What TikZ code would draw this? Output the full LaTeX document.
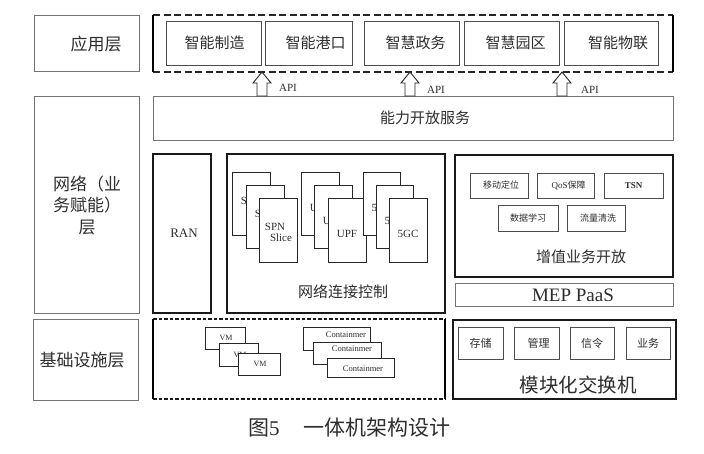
\documentclass[tikz,border=0pt]{standalone}
\usepackage{fontspec}
\setmainfont{Liberation Serif}
\newfontfamily\cjk{Noto Sans CJK SC}
\begin{document}
\begin{tikzpicture}[x=1pt,y=-1pt,
  base/.style={inner sep=0pt, outer sep=0pt, anchor=north west},
  layerbox/.style={base, draw=black!55, line width=0.9pt},
  itembox/.style={base, draw=black!70, line width=0.9pt, fill=white},
  heavybox/.style={base, draw=black!90, line width=1.7pt},
  card/.style={base, draw=black!85, line width=0.8pt, fill=white},
  txt/.style={inner sep=0pt, text=black!82},
  zh/.style={txt, font=\cjk\fontsize{#1}{#1}\selectfont},
  en/.style={txt, font=\fontsize{#1}{#1}\selectfont},
  hollow/.style={draw=black!85, line width=0.9pt, fill=white, line join=miter},
]
\fill[white] (0,0) rectangle (704,453);
\useasboundingbox (0,0) rectangle (704,453);

% ---------- layer labels ----------
\node[layerbox, minimum width=105pt, minimum height=56pt] (l1) at (34,15) {};
\node[zh=17] (l1t) at (96,44) {应用层};
\node[layerbox, minimum width=105pt, minimum height=217pt] (l2) at (34,96) {};
\node[zh=17, align=center] (l2t) at (87,205) {网络（业\\[4pt]务赋能）\\[5pt]层};
\node[layerbox, minimum width=105pt, minimum height=81pt] (l3) at (33,319) {};
\node[zh=17] (l3t) at (82,360) {基础设施层};

% ---------- application layer ----------
\node[base, minimum width=520pt, minimum height=57pt] (app) at (153,15) {};
\draw[black!85, line width=1.3pt, dash pattern=on 7pt off 3.5pt]
  (app.north west) -- (app.north east) (app.south west) -- (app.south east);
\draw[black, line width=2pt] (app.north west) -- (app.south west) (app.north east) -- (app.south east);

\node[itembox, minimum width=95pt, minimum height=44pt] (a1) at (166,21) {};
\node[zh=15] (a1t) at ([xshift=1pt]a1.center) {智能制造};
\node[itembox, minimum width=87pt, minimum height=44pt] (a2) at (265,21) {};
\node[zh=15] (a2t) at ([xshift=7pt]a2.center) {智能港口};
\node[itembox, minimum width=95pt, minimum height=44pt] (a3) at (364,21) {};
\node[zh=15] (a3t) at ([xshift=4pt]a3.center) {智慧政务};
\node[itembox, minimum width=95pt, minimum height=44pt] (a4) at (464,21) {};
\node[zh=15] (a4t) at ([xshift=4pt]a4.center) {智慧园区};
\node[itembox, minimum width=94pt, minimum height=44pt] (a5) at (564,21) {};
\node[zh=15] (a5t) at ([xshift=7pt]a5.center) {智能物联};

% ---------- capability box ----------
\node[layerbox, minimum width=520pt, minimum height=44pt] (cap) at (153,96) {};
\node[zh=15] (capt) at (425,118) {能力开放服务};

% ---------- API arrows ----------
\coordinate (tip1) at (262,72);
\coordinate (tip2) at (410,72);
\coordinate (tip3) at (562,72);
\foreach \t in {tip1,tip2,tip3}{
  \draw[hollow] (\t) -- ++(9,11) -- ++(-4,0) -- ++(0,13) -- ++(-10,0) -- ++(0,-13) -- ++(-4,0) -- cycle;
}
\node[en=11] (api1) at (288,88) {API};
\node[en=11] (api2) at (436,90) {API};
\node[en=11] (api3) at (590,90) {API};

% ---------- network layer ----------
\node[heavybox, minimum width=58pt, minimum height=159pt] (ran) at (153,154) {};
\node[en=13] (rant) at ([xshift=2pt]ran.center) {RAN};

\node[heavybox, minimum width=218pt, minimum height=159pt] (net) at (227,154) {};
\node[zh=15] (nett) at (343,292) {网络连接控制};

% SPN Slice stack
\node[card, minimum width=38pt, minimum height=63pt] (g1a) at (232,172) {};
\node[en=11] (g1at) at ([shift={(19,29)}]g1a.north west) {SPN};
\node[card, minimum width=38pt, minimum height=63pt] (g1b) at (246,185) {};
\node[en=11] (g1bt) at ([shift={(19,29)}]g1b.north west) {SPN};
\node[card, minimum width=38pt, minimum height=64pt] (g1c) at (259,198) {};
\node[en=11] (g1ct1) at ([shift={(16,29)}]g1c.north west) {SPN};
\node[en=11] (g1ct2) at ([shift={(22,40)}]g1c.north west) {Slice};
% UPF stack
\node[card, minimum width=38pt, minimum height=63pt] (g2a) at (301,172) {};
\node[en=11] (g2at) at ([shift={(19,36)}]g2a.north west) {UPF};
\node[card, minimum width=38pt, minimum height=63pt] (g2b) at (314,185) {};
\node[en=11] (g2bt) at ([shift={(19,36)}]g2b.north west) {UPF};
\node[card, minimum width=38pt, minimum height=64pt] (g2c) at (328,198) {};
\node[en=11] (g2ct) at ([shift={(19,36)}]g2c.north west) {UPF};
% 5GC stack
\node[card, minimum width=37pt, minimum height=63pt] (g3a) at (363,172) {};
\node[en=11] (g3at) at ([shift={(19,36)}]g3a.north west) {5GC};
\node[card, minimum width=37pt, minimum height=63pt] (g3b) at (376,185) {};
\node[en=11] (g3bt) at ([shift={(19,36)}]g3b.north west) {5GC};
\node[card, minimum width=38pt, minimum height=64pt] (g3c) at (389,198) {};
\node[en=11] (g3ct) at ([shift={(19,36)}]g3c.north west) {5GC};

% value-added services
\node[heavybox, minimum width=218pt, minimum height=122pt] (vas) at (455,155) {};
\node[itembox, minimum width=58pt, minimum height=25pt] (s1) at (470,173) {};
\node[zh=9] (s1t) at ([xshift=2pt]s1.center) {移动定位};
\node[itembox, minimum width=57pt, minimum height=25pt] (s2) at (537,173) {};
\node[zh=9] (s2t) at ([xshift=3pt]s2.center) {{\rmfamily QoS}保障};
\node[itembox, minimum width=59pt, minimum height=25pt] (s3) at (604,173) {};
\node[en=9, font=\fontsize{9}{9}\selectfont\bfseries] (s3t) at (s3.center) {TSN};
\node[itembox, minimum width=60pt, minimum height=26pt] (s4) at (498,205) {};
\node[zh=9] (s4t) at (s4.center) {数据学习};
\node[itembox, minimum width=58pt, minimum height=26pt] (s5) at (567,205) {};
\node[zh=9] (s5t) at ([xshift=2pt]s5.center) {流量清洗};
\node[zh=15] (vast) at (581,257) {增值业务开放};

\node[layerbox, minimum width=218pt, minimum height=23pt] (mep) at (455,283) {};
\node[en=19] (mept) at (573,295) {MEP PaaS};

% ---------- infrastructure layer ----------
\node[base, minimum width=292pt, minimum height=80pt] (infra) at (153,319) {};
\draw[black!90, line width=1.4pt, dash pattern=on 3.5pt off 2pt]
  (infra.north west) -- (infra.north east) (infra.south west) -- (infra.south east);
\draw[black, line width=1.8pt] (infra.north west) -- (infra.south west) (infra.north east) -- (infra.south east);

\node[card, minimum width=40pt, minimum height=22pt] (v1) at (205,327) {};
\node[en=8] (v1t) at ([shift={(21,11)}]v1.north west) {VM};
\node[card, minimum width=39pt, minimum height=23pt] (v2) at (219,343) {};
\node[en=8] (v2t) at ([shift={(21,12)}]v2.north west) {VM};
\node[card, minimum width=42pt, minimum height=22pt] (v3) at (238,353) {};
\node[en=8] (v3t) at ([shift={(22,11)}]v3.north west) {VM};

\node[card, minimum width=67pt, minimum height=23pt] (c1) at (303,327) {};
\node[en=8.5] (c1t) at ([shift={(43,8)}]c1.north west) {Containmer};
\node[card, minimum width=68pt, minimum height=22pt] (c2) at (313,342) {};
\node[en=8.5] (c2t) at ([shift={(39,7)}]c2.north west) {Containmer};
\node[card, minimum width=67pt, minimum height=19pt] (c3) at (327,358) {};
\node[en=8.5] (c3t) at ([shift={(36,11)}]c3.north west) {Containmer};

\node[heavybox, line width=1.5pt, minimum width=223pt, minimum height=79pt] (sw) at (453,320) {};
\node[itembox, minimum width=45pt, minimum height=32pt] (m1) at (458,327) {};
\node[zh=11] (m1t) at (m1.center) {存储};
\node[itembox, minimum width=45pt, minimum height=32pt] (m2) at (514,327) {};
\node[zh=11] (m2t) at ([xshift=2pt]m2.center) {管理};
\node[itembox, minimum width=44pt, minimum height=32pt] (m3) at (570,327) {};
\node[zh=11] (m3t) at (m3.center) {信令};
\node[itembox, minimum width=44pt, minimum height=32pt] (m4) at (626,327) {};
\node[zh=11] (m4t) at (m4.center) {业务};
\node[zh=19.5] (swt) at (578,385) {模块化交换机};

% ---------- caption ----------
\node[zh=21, anchor=west] (cap5) at (248,428) {图{\rmfamily 5}\hspace{24pt}一体机架构设计};
\end{tikzpicture}
\end{document}
